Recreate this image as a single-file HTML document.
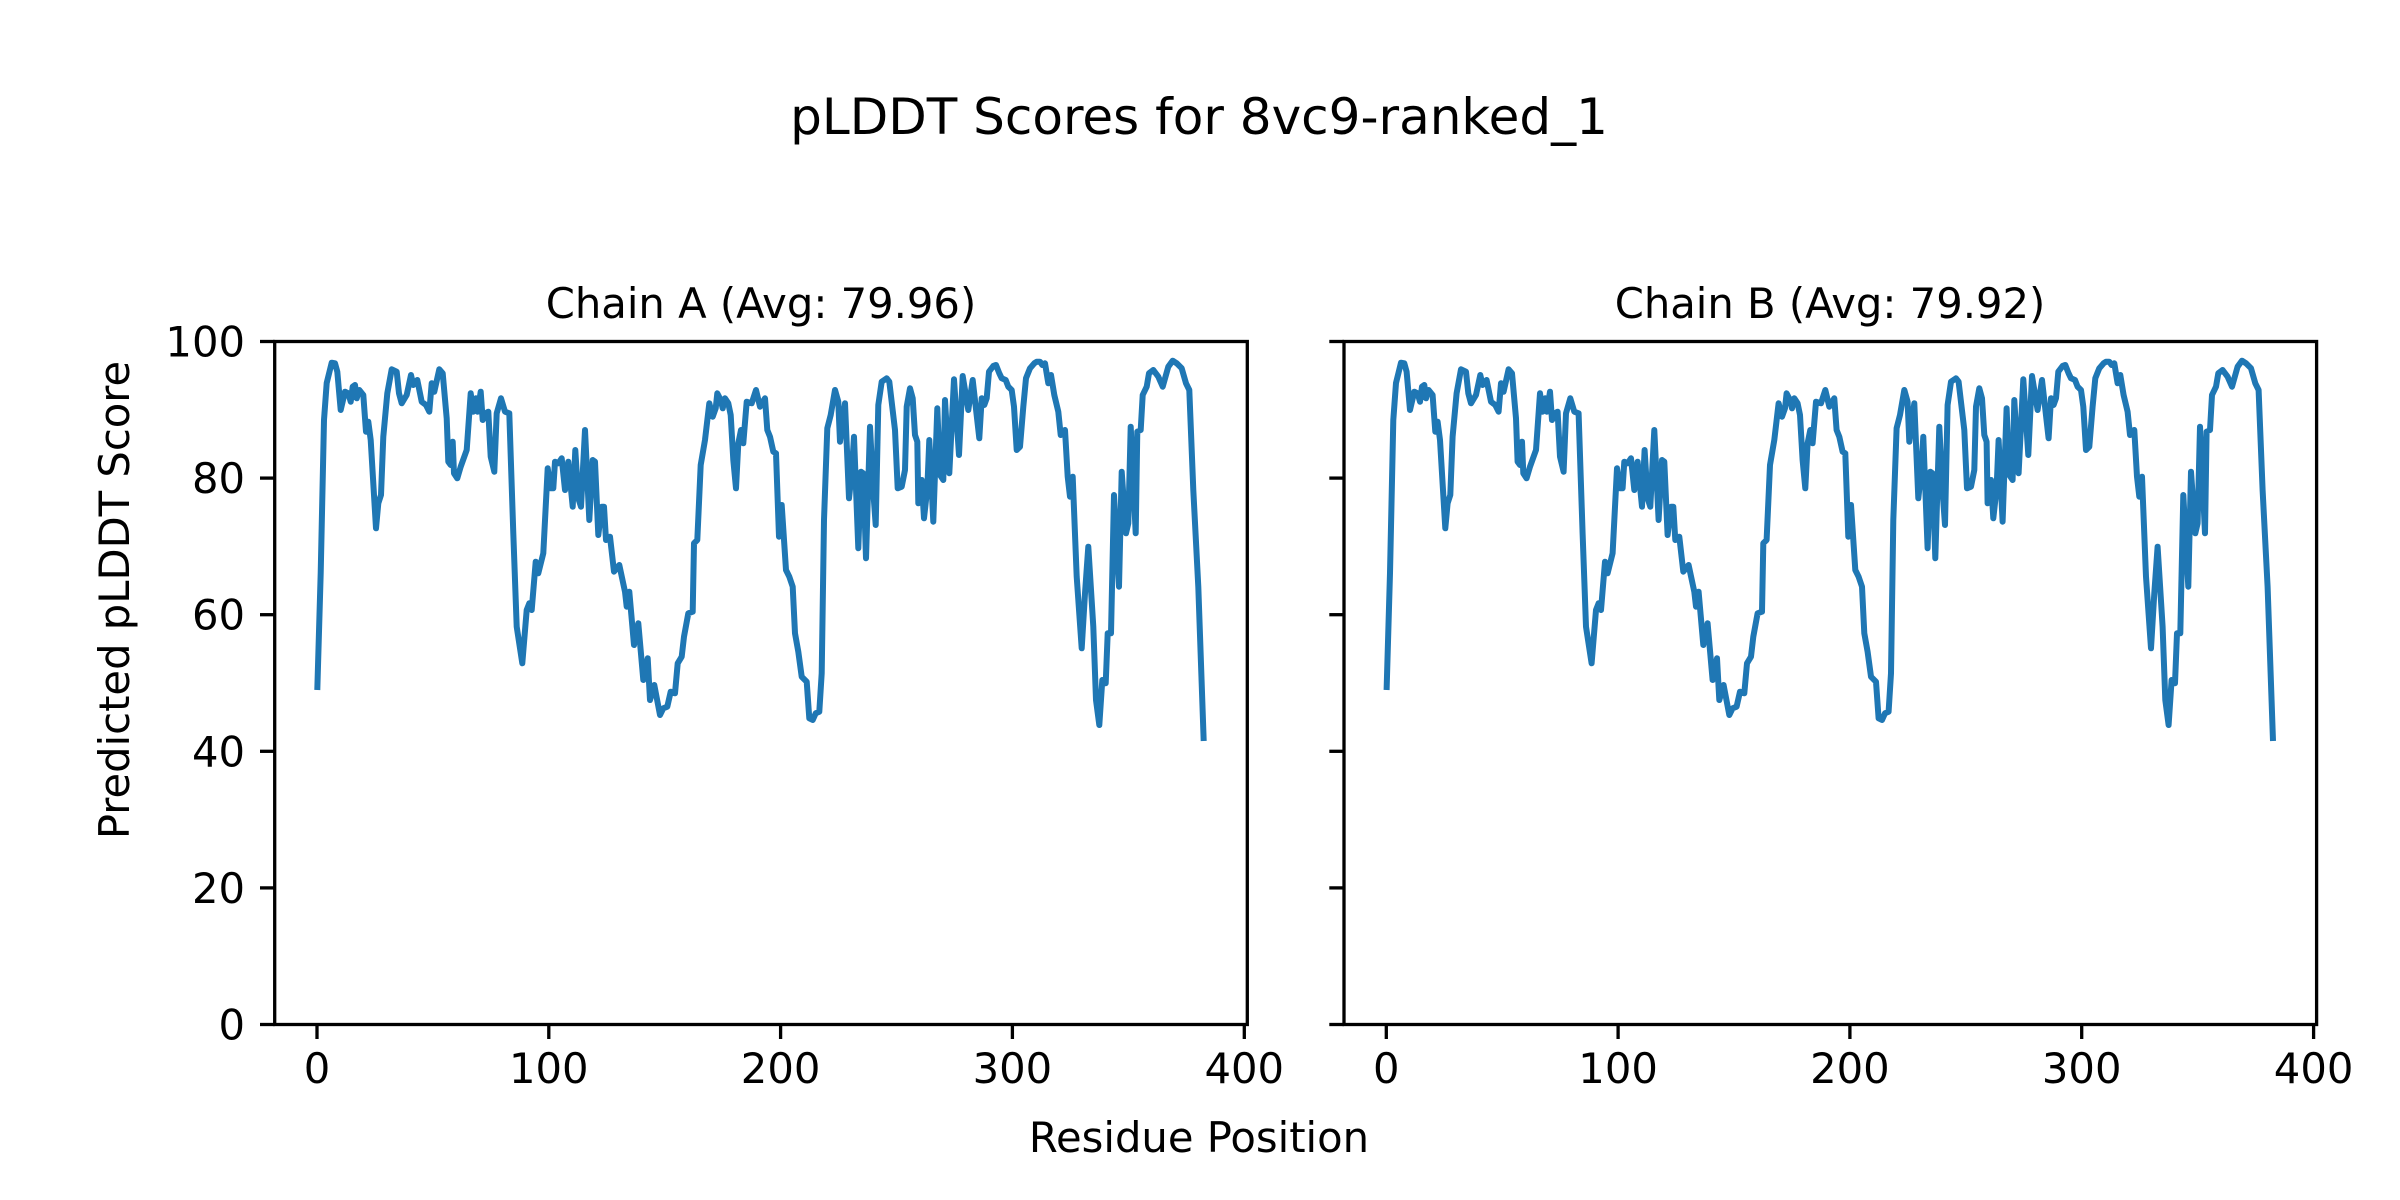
<!DOCTYPE html>
<html><head><meta charset="utf-8"><style>
html,body{margin:0;padding:0;background:#fff;}
svg{display:block;}
text{font-family:"DejaVu Sans","Liberation Sans",sans-serif;fill:#000;}
</style></head><body>
<svg width="2400" height="1200" viewBox="0 0 2400 1200" xmlns="http://www.w3.org/2000/svg">
<defs>
<polyline id="curve" fill="none" stroke="#1f77b4" stroke-width="6" stroke-linejoin="round" stroke-linecap="butt" points="317.3,690 320.7,573 324,420 326.7,383 331.7,362.7 335,363.3 337.3,371.7 340.7,410 345,391.7 348.3,393.3 350.7,401.7 352.7,386.7 355,385 356.7,398.3 359.3,390 363.3,395 366,431.7 368.3,421.7 370.7,440 376,528.3 378.3,503.3 381,495 383.3,436.7 387.3,393.3 391.7,369.3 396.7,371.7 399,393.3 401.7,403.3 406.7,395 411,375 413.3,385 417.3,380 421.7,401.7 426,405 429.3,411.7 431.7,383.3 434.3,391.7 439.3,369.3 442.7,373.3 446.7,418.3 448.3,461.7 450.7,465 452.7,441.7 454,473.3 457.3,478.3 460.7,466.7 466.7,450 470.7,393.3 473.3,411.7 476,398.3 477.7,411.7 480.7,391.7 482.7,420 485.7,413.3 488.3,411.7 490.7,456.7 494.3,471.7 496.7,413.3 501,398.3 505,411.7 509.3,413.3 513.3,533.3 516.7,626.7 522.3,663.3 526.7,610 529.3,603.3 531.7,610 535.7,561.7 538.3,573.3 543.3,553.3 547.7,468.3 550.7,488.3 553.3,488.3 555,461.7 558.3,463.3 561.7,458.3 565,490 568.3,461.7 572.7,506.7 575.3,450 578.3,498.3 581,506.7 585,430 589.3,520 592.7,460 595,461.7 598.3,535 601.7,506.7 604,506.7 606,540 610,536.7 614,571.7 619.3,565 625,591.7 626.7,606.7 629.3,591.7 634,645 638.3,623.3 643.3,680 647.7,658.3 650,700 654.3,685 660,715 663.3,708.3 667.3,706.7 670.7,691.7 675,693.3 677.7,663.3 681.7,656.7 684,636.7 688.3,613.3 692.7,611.7 694,543.3 697.3,540 700.7,465 705,440 709.3,403.3 712.7,416.7 715.7,408.3 717.3,393.3 720.7,400 722.7,408.3 725,398.3 728.3,403.3 730.7,415 733.3,460 736,488.3 738.3,443.3 741,430 743.3,443.3 746.7,401.7 751.7,403.3 756,390 760,406.7 765,398.3 767.3,430 770,436.7 773.3,451.7 776,453.3 779,536.7 781.7,505 786,570 789.3,576.7 792.7,586.7 795,633.3 798.3,651.7 801.7,676.7 806.7,681.7 809.3,718.3 812.7,720 815.7,713.3 819.3,711.7 821.7,673.3 824,520 827.3,428.3 830.7,415 835,390 838.3,401.7 840,441.7 842.3,423.3 845,403.3 849,498.3 851.7,473.3 854,436.7 858.3,548.3 861,471.7 863.3,473.3 866,558.3 870,426.7 873.3,491.7 875.7,525 878.3,405 881.7,381.7 886.7,378.3 889.3,381.7 895,430 897.7,488.3 901.7,486.7 905,470 906.7,406.7 910,388.3 912.7,398.3 915,435 917.3,441.7 918.3,503.3 921.7,480 924,518.3 927.3,488.3 929.3,440 933.3,521.7 937.3,408.3 940,475 943.3,480 945,400 949.3,473.3 954,379.3 959,455 962.7,376 968.3,410 972.7,380 979.3,438.3 981.7,398.3 984.3,405 986.7,398.3 989,371.7 993.3,366 996,365 999.3,373.3 1001.7,378.3 1005.7,380 1008.3,386.7 1011.7,390 1014,406.7 1016.7,450 1020,446.7 1023.3,406.7 1026,378.3 1030,368.3 1034.3,363.3 1036.7,361.7 1040,361.7 1042.3,365 1045,363.3 1048.3,383.3 1051,375 1054.3,395 1058.3,411.7 1060.7,435 1065,430 1067.7,476.7 1070,496.7 1072.7,476.7 1076.7,576.7 1081.7,648.3 1085,593.3 1088.3,546.7 1093.3,626.7 1096,700 1099.3,725 1102.3,680 1105.7,683.3 1107.7,633.3 1111,633.3 1114,495 1119,586.7 1121.7,471.7 1126,533.3 1128.3,523.3 1130.7,426.7 1135.7,533.3 1137.3,431.7 1140.7,430 1142.7,395 1146.7,386.7 1149,373.3 1153.3,370 1158.3,376.7 1162.7,386.7 1168.3,366.7 1172.7,360.7 1176.7,363.3 1181.7,368.3 1186,383.3 1189.3,390 1193.3,490 1198.3,586.7 1203.7,741"/>
</defs>

<text x="1199" y="134" font-size="50" text-anchor="middle">pLDDT Scores for 8vc9-ranked_1</text>

<!-- Left axes -->
<text x="761" y="318" font-size="41.7" text-anchor="middle">Chain A (Avg: 79.96)</text>
<use href="#curve"/>
<rect x="274.7" y="341.5" width="972.6" height="683" fill="none" stroke="#000" stroke-width="3.3"/>
<g stroke="#000" stroke-width="3.3">
<line x1="317" y1="1024.5" x2="317" y2="1039"/>
<line x1="548.8" y1="1024.5" x2="548.8" y2="1039"/>
<line x1="780.6" y1="1024.5" x2="780.6" y2="1039"/>
<line x1="1012.4" y1="1024.5" x2="1012.4" y2="1039"/>
<line x1="1244.3" y1="1024.5" x2="1244.3" y2="1039"/>
<line x1="260" y1="1024.5" x2="274.7" y2="1024.5"/>
<line x1="260" y1="887.9" x2="274.7" y2="887.9"/>
<line x1="260" y1="751.3" x2="274.7" y2="751.3"/>
<line x1="260" y1="614.7" x2="274.7" y2="614.7"/>
<line x1="260" y1="478.1" x2="274.7" y2="478.1"/>
<line x1="260" y1="341.5" x2="274.7" y2="341.5"/>
</g>
<g font-size="41.7" text-anchor="middle">
<text x="317" y="1083">0</text>
<text x="548.8" y="1083">100</text>
<text x="780.6" y="1083">200</text>
<text x="1012.4" y="1083">300</text>
<text x="1244.3" y="1083">400</text>
</g>
<g font-size="41.7" text-anchor="end">
<text x="245" y="1039.5">0</text>
<text x="245" y="902.9">20</text>
<text x="245" y="766.3">40</text>
<text x="245" y="629.7">60</text>
<text x="245" y="493.1">80</text>
<text x="245" y="356.5">100</text>
</g>
<text x="0" y="0" font-size="41.7" text-anchor="middle" transform="translate(129,600) rotate(-90)">Predicted pLDDT Score</text>

<!-- Right axes -->
<text x="1830" y="318" font-size="41.7" text-anchor="middle">Chain B (Avg: 79.92)</text>
<use href="#curve" transform="translate(1069.3,0)"/>
<rect x="1344" y="341.5" width="972.6" height="683" fill="none" stroke="#000" stroke-width="3.3"/>
<g stroke="#000" stroke-width="3.3">
<line x1="1386.3" y1="1024.5" x2="1386.3" y2="1039"/>
<line x1="1618.1" y1="1024.5" x2="1618.1" y2="1039"/>
<line x1="1849.9" y1="1024.5" x2="1849.9" y2="1039"/>
<line x1="2081.7" y1="1024.5" x2="2081.7" y2="1039"/>
<line x1="2313.6" y1="1024.5" x2="2313.6" y2="1039"/>
<line x1="1329.3" y1="1024.5" x2="1344" y2="1024.5"/>
<line x1="1329.3" y1="887.9" x2="1344" y2="887.9"/>
<line x1="1329.3" y1="751.3" x2="1344" y2="751.3"/>
<line x1="1329.3" y1="614.7" x2="1344" y2="614.7"/>
<line x1="1329.3" y1="478.1" x2="1344" y2="478.1"/>
<line x1="1329.3" y1="341.5" x2="1344" y2="341.5"/>
</g>
<g font-size="41.7" text-anchor="middle">
<text x="1386.3" y="1083">0</text>
<text x="1618.1" y="1083">100</text>
<text x="1849.9" y="1083">200</text>
<text x="2081.7" y="1083">300</text>
<text x="2313.6" y="1083">400</text>
</g>

<text x="1199" y="1152" font-size="41.7" text-anchor="middle">Residue Position</text>
</svg>
</body></html>
